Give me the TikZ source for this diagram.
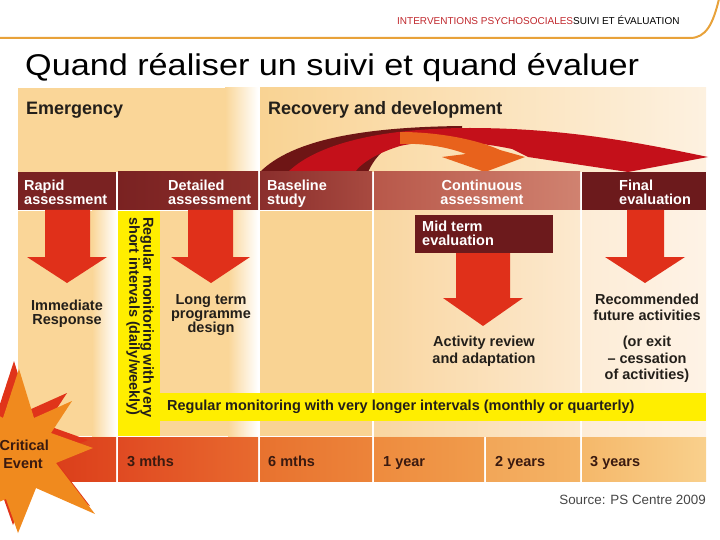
\documentclass[tikz,border=0pt]{standalone}
\usepackage{fontspec}
\setmainfont{Liberation Sans}
\definecolor{peach}{HTML}{FAD698}
\definecolor{peachB}{HTML}{F9D393}
\definecolor{peachR}{HTML}{FDF1E0}
\definecolor{yel}{HTML}{FFEE00}
\definecolor{arrowred}{HTML}{E0301A}
\definecolor{darkhdr}{HTML}{6C1A1C}
\definecolor{rapidc}{HTML}{7A2222}
\definecolor{detR}{HTML}{8C2E2A}
\definecolor{baseL}{HTML}{8A2E2C}
\definecolor{baseR}{HTML}{A84A40}
\definecolor{contL}{HTML}{B8584A}
\definecolor{contR}{HTML}{D08270}
\definecolor{cbodyL}{HTML}{F9D6A0}
\definecolor{cbodyR}{HTML}{FCE9CF}
\definecolor{fbodyL}{HTML}{FDECD6}
\definecolor{fbodyR}{HTML}{FEF3E6}
\definecolor{r0L}{HTML}{D83818}
\definecolor{r0R}{HTML}{E04A20}
\definecolor{r1L}{HTML}{E04A22}
\definecolor{r1R}{HTML}{E86A2E}
\definecolor{r2L}{HTML}{E8722F}
\definecolor{r2R}{HTML}{EC843A}
\definecolor{r3L}{HTML}{EE8B3E}
\definecolor{r3R}{HTML}{F09C4C}
\definecolor{r4L}{HTML}{F2A658}
\definecolor{r4R}{HTML}{F4B466}
\definecolor{r5L}{HTML}{F5B86A}
\definecolor{r5R}{HTML}{F9D08C}
\definecolor{txt}{HTML}{231F1A}
\definecolor{btxt}{HTML}{3A1A10}
\definecolor{hred}{HTML}{C0282D}
\definecolor{lineor}{HTML}{E8A23A}
\definecolor{arcdark}{HTML}{6E1515}
\definecolor{arcred}{HTML}{C4101A}
\definecolor{arcor}{HTML}{E8621C}
\definecolor{starred}{HTML}{E0341A}
\definecolor{staror}{HTML}{F08A1E}
\definecolor{srcgray}{HTML}{464646}
\newcommand\mkhshade[3]{\pgfdeclarehorizontalshading{#1}{100bp}{color(0bp)=(#2); color(25bp)=(#2); color(75bp)=(#3); color(100bp)=(#3)}}
\mkhshade{fadeW}{peach}{white}
\mkhshade{recov}{peachB}{peachR}
\mkhshade{detH}{rapidc}{detR}
\mkhshade{baseH}{baseL}{baseR}
\mkhshade{contH}{contL}{contR}
\mkhshade{contB}{cbodyL}{cbodyR}
\mkhshade{finB}{fbodyL}{fbodyR}
\mkhshade{rowA}{r0L}{r0R}
\mkhshade{rowB}{r1L}{r1R}
\mkhshade{rowC}{r2L}{r2R}
\mkhshade{rowD}{r3L}{r3R}
\mkhshade{rowE}{r4L}{r4R}
\mkhshade{rowF}{r5L}{r5R}
\begin{document}
\begin{tikzpicture}[x=1pt,y=-1pt,
  hdr/.style={text=white, font=\bfseries\fontsize{14.5}{14}\selectfont, align=left, inner sep=0pt},
  bodytxt/.style={text=txt, font=\bfseries\fontsize{14.5}{14}\selectfont, align=center, inner sep=0pt},
  bigtxt/.style={text=txt, font=\bfseries\fontsize{18}{20}\selectfont, inner sep=0pt},
  rowtxt/.style={text=btxt, font=\bfseries\fontsize{14.5}{14}\selectfont, inner sep=0pt},
  startxt/.style={anchor=base east, inner sep=0pt, text=btxt, font=\bfseries\fontsize{14.5}{16}\selectfont},
  blockarrow/.style={fill=arrowred}]
\useasboundingbox (0,0) rectangle (720,540);
\clip (0,0) rectangle (720,540);

% header line and texts
\draw[lineor, line width=2pt] (0,38) -- (690,38) .. controls (706,38) and (713,24) .. (719,-1);
\node[anchor=base west, inner sep=0pt, font=\fontsize{10}{12}\selectfont] (hd) at (397,25)
  {{\color{hred}INTERVENTIONS PSYCHOSOCIALES}SUIVI ET ÉVALUATION};
\node[anchor=base west, inner sep=0pt, font=\fontsize{30}{34}\selectfont] (title) at (25,76)
  {\scalebox{1.14}[1]{Quand réaliser un suivi et quand évaluer}};

% top panels
\fill[peach] (18,88) rectangle (225,172);
\shade[shading=fadeW] (225,88) rectangle (258,172);
\shade[shading=recov] (260,88) rectangle (706,172);
\node[bigtxt, anchor=base west] (emerg) at (26,115) {Emergency};
\node[bigtxt, anchor=base west] (recovtxt) at (268,115) {Recovery and development};

% curved arrows
\fill[arcdark] (260,172) .. controls (292,140) and (362,127) .. (462,126)
  -- (462,131) .. controls (402,132) and (380,146) .. (368,172) -- cycle;
\fill[arcred] (288,172) .. controls (320,141) and (390,128) .. (470,128)
  .. controls (570,128) and (650,145) .. (708,157) -- (628,172) -- (528,157) -- (512,149)
  .. controls (470,140) and (425,140) .. (400,146) .. controls (380,152) and (362,162) .. (355,172) -- cycle;
\fill[arcor] (400,132) .. controls (440,132) and (478,140) .. (500,150) -- (525,157) -- (485,172)
  -- (442,157) -- (466,154) .. controls (445,146) and (420,143) .. (400,144) -- cycle;

% header row
\fill[rapidc] (18,172) rectangle (116,210);
\shade[shading=detH] (118,172) rectangle (258,210);
\shade[shading=baseH] (260,172) rectangle (372,210);
\shade[shading=contH] (374,172) rectangle (580,210);
\fill[darkhdr] (582,172) rectangle (706,210);
\node[hdr, anchor=north west] (rapid) at (24,180) {Rapid\\assessment};
\node[hdr, anchor=north west] (detail) at (168,180) {Detailed\\assessment};
\node[hdr, anchor=north west] (base) at (267,180) {Baseline\\study};
\node[hdr, anchor=north, align=center] (cont) at (482,180) {Continuous\\assessment};
\node[hdr, anchor=north west] (final) at (619,180) {Final\\evaluation};

% column bodies
\fill[peach] (18,211) rectangle (92,436);
\shade[shading=fadeW] (92,211) rectangle (116,436);
\fill[peach] (160,211) rectangle (228,436);
\shade[shading=fadeW] (228,211) rectangle (258,436);
\fill[peachB] (260,211) rectangle (372,436);
\shade[shading=contB] (374,211) rectangle (580,436);
\shade[shading=finB] (582,211) rectangle (706,436);

% yellow bands
\fill[yel] (118,211) rectangle (160,436);
\fill[yel] (160,393) rectangle (706,421);
\node[bodytxt, anchor=west, rotate=-90, align=left] (shortmon) at (140,217)
  {Regular monitoring with very\\short intervals (daily/weekly)};
\node[bodytxt, anchor=west] (longmon) at (167,407)
  {Regular monitoring with very longer intervals (monthly or quarterly)};

% mid term box
\fill[darkhdr] (415,215) rectangle (553,253);
\node[hdr, anchor=north west] (mid) at (422,221) {Mid term\\evaluation};

% block arrows
\fill[blockarrow] (45,210) -- (90,210) -- (90,257) -- (107,257) -- (67,283) -- (27,257) -- (45,257) -- cycle;
\fill[blockarrow] (188,210) -- (233,210) -- (233,257) -- (250,257) -- (211,283) -- (171,257) -- (188,257) -- cycle;
\fill[blockarrow] (627,210) -- (664,210) -- (664,257) -- (685,257) -- (645,283) -- (605,257) -- (627,257) -- cycle;
\fill[blockarrow] (456,253) -- (510,253) -- (510,298) -- (523,298) -- (483,326) -- (443,298) -- (456,298) -- cycle;

% body texts
\node[bodytxt, anchor=north] (imm) at (67,300) {Immediate\\Response};
\node[bodytxt, anchor=north] (ltp) at (211,294) {Long term\\programme\\design};
\node[bodytxt, anchor=north, font=\bfseries\fontsize{14.5}{17}\selectfont] (act) at (484,336) {Activity review\\and adaptation};
\node[bodytxt, anchor=north, font=\bfseries\fontsize{14.5}{16}\selectfont] (rec) at (647,294) {Recommended\\future activities};
\node[bodytxt, anchor=north, font=\bfseries\fontsize{14.5}{16.5}\selectfont] (exit) at (647,336) {(or exit\\– cessation\\of activities)};

% bottom row
\shade[shading=rowA] (18,437) rectangle (116,481);
\shade[shading=rowB] (118,437) rectangle (258,481);
\shade[shading=rowC] (260,437) rectangle (372,481);
\shade[shading=rowD] (374,437) rectangle (484,481);
\shade[shading=rowE] (486,437) rectangle (580,481);
\shade[shading=rowF] (582,437) rectangle (706,481);
\node[rowtxt, anchor=base west] (m3) at (127,466) {3 mths};
\node[rowtxt, anchor=base west] (m6) at (268,466) {6 mths};
\node[rowtxt, anchor=base west] (y1) at (383,466) {1 year};
\node[rowtxt, anchor=base west] (y2) at (495,466) {2 years};
\node[rowtxt, anchor=base west] (y3) at (590,466) {3 years};

% critical event star (red shadow, then orange)
\begin{scope}[shift={(-5,-8)}]
\fill[starred] (-25,402) -- (3,418) -- (19,369) -- (34,418) -- (72,401) -- (51,433) -- (93,448) -- (56,463)
  -- (95,514) -- (36,488) -- (18,533) -- (6,499) -- (-25,512) -- (-7,462) -- cycle;
\end{scope}
\fill[staror] (-25,402) -- (3,418) -- (19,369) -- (34,418) -- (72,401) -- (51,433) -- (93,448) -- (56,463)
  -- (95,514) -- (36,488) -- (18,533) -- (6,499) -- (-25,512) -- (-7,462) -- cycle;
\node[startxt] (crit) at (49,450) {Critical};
\node[startxt] (event) at (43,468) {Event};

% source
\node[anchor=base east, inner sep=0pt, text=srcgray, font=\fontsize{13.4}{15}\selectfont] (src) at (706,504) {Source: PS Centre 2009};
\end{tikzpicture}
\end{document}
